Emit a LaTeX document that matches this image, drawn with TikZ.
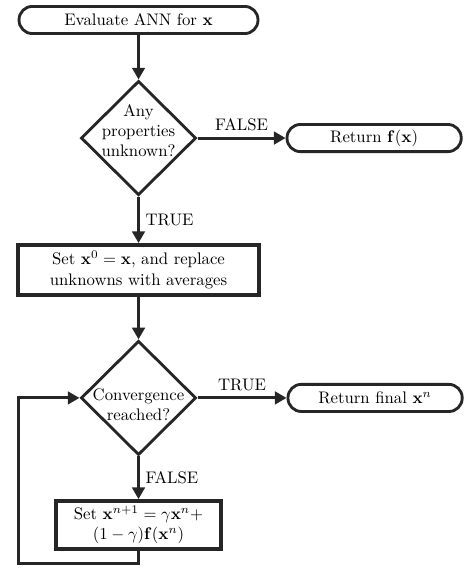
\documentclass[tikz,border=0pt]{standalone}
\usetikzlibrary{shapes.geometric,arrows.meta}
\tikzset{
  term/.style={draw=black!85,line width=1.7pt,rounded corners=0.28cm,minimum height=0.57cm,inner sep=2pt},
  procbox/.style={draw=black!85,line width=2.2pt,align=center,inner sep=2pt},
  decision/.style={draw=black!85,line width=1.7pt,diamond,minimum width=2.42cm,minimum height=2.40cm,inner sep=0pt},
  flow/.style={draw=black!85,line width=1.8pt,-{Triangle[length=7pt,width=7.5pt]}},
}
\begin{document}
\begin{tikzpicture}
\useasboundingbox (0,0) rectangle (10,-12.101);
\node[term,minimum width=5.02cm] (eval) at (2.91,-0.42) {Evaluate ANN for $\mathbf{x}$};
\node[decision] (anyq) at (2.91,-2.90) {};
\node[align=center] (anyqtext) at (2.91,-2.74) {Any\\properties\\unknown?};
\node[term,minimum width=3.66cm] (retf) at (7.86,-2.90) {Return $\mathbf{f}(\mathbf{x})$};
\node[procbox,minimum width=5.06cm,minimum height=1.05cm] (init) at (2.91,-5.67) {Set $\mathbf{x}^0=\mathbf{x}$, and replace\\unknowns with averages};
\node[decision] (conv) at (2.91,-8.36) {};
\node[align=center] (convtext) at (2.91,-8.50) {Convergence\\reached?};
\node[term,minimum width=3.66cm] (retx) at (7.88,-8.36) {Return final $\mathbf{x}^n$};
\node[procbox,minimum width=3.47cm,minimum height=1.01cm] (update) at (2.91,-11.03) {Set $\mathbf{x}^{n+1}=\gamma\mathbf{x}^n+$\\$(1-\gamma)\mathbf{f}(\mathbf{x}^n)$};
% loop back
\coordinate (loopa) at (2.91,-11.83);
\coordinate (loopb) at (0.38,-11.83);
\coordinate (loopc) at (0.38,-8.36);
\draw[flow] (eval) -- (anyq);
\draw[flow] (anyq) -- node[above] (falsea) {FALSE} (retf);
\draw[flow] (anyq) -- node[right] (truea) {TRUE} (init);
\draw[flow] (init) -- (conv);
\draw[flow] (conv) -- node[above] (trueb) {TRUE} (retx);
\draw[flow] (conv) -- node[right] (falseb) {FALSE} (update);
\draw[flow] (update.south) -- (loopa) -- (loopb) -- (loopc) -- (conv.west);
\end{tikzpicture}
\end{document}
